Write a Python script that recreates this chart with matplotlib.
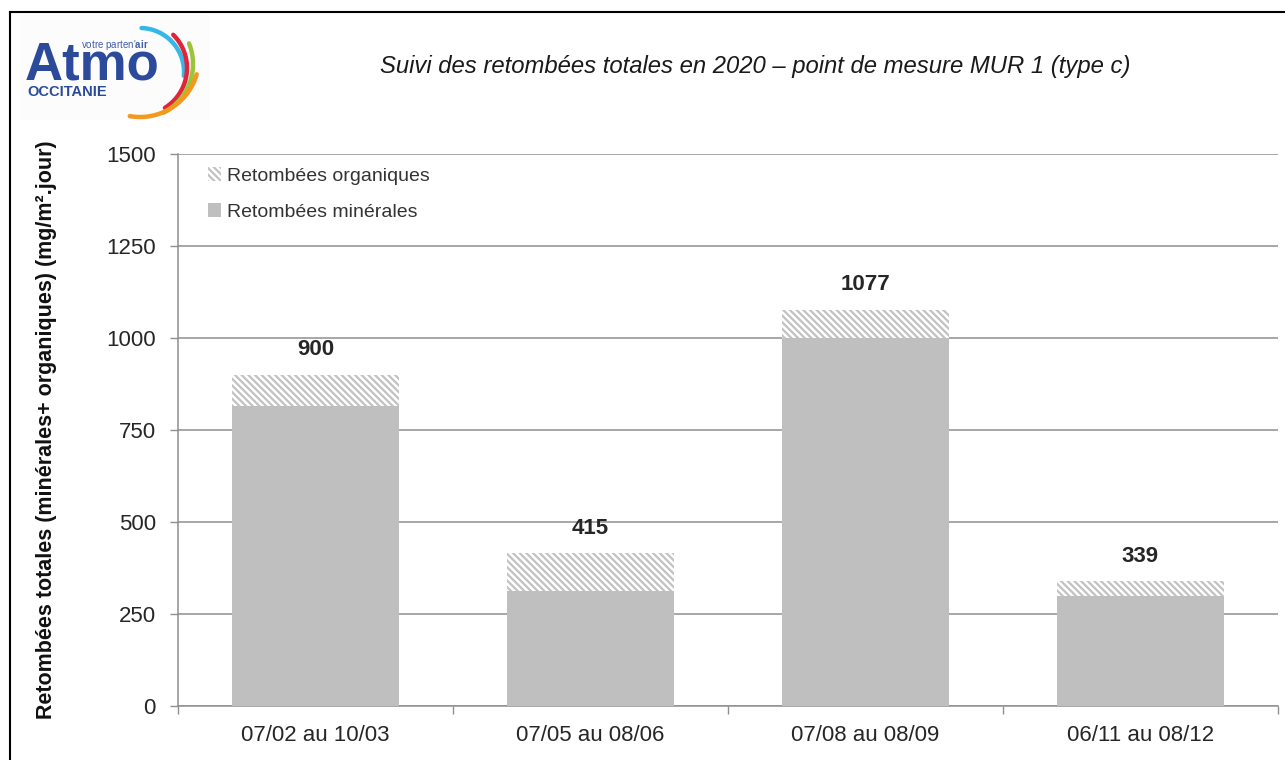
import numpy as np
import matplotlib
matplotlib.use("Agg")
import matplotlib.pyplot as plt
from matplotlib.patches import Patch
from matplotlib.lines import Line2D

# ---- data ----
periods = ["07/02 au 10/03", "07/05 au 08/06", "07/08 au 08/09", "06/11 au 08/12"]
minerales = [815, 313, 1000, 300]
totales = [900, 415, 1077, 339]
organiques = [t - m for t, m in zip(totales, minerales)]
yticks = [0, 250, 500, 750, 1000, 1250, 1500]

title = "Suivi des retombées totales en 2020 – point de mesure MUR 1 (type c)"
ylabel = "Retombées totales (minérales+ organiques) (mg/m².jour)"
legend_labels = ["Retombées organiques", "Retombées minérales"]

plt.rcParams['font.family'] = ['Liberation Sans', 'DejaVu Sans']
plt.rcParams['hatch.linewidth'] = 1.6
plt.rcParams['mathtext.fontset'] = 'custom'
plt.rcParams['mathtext.rm'] = 'Liberation Sans'
plt.rcParams['mathtext.bf'] = 'Liberation Sans:bold'

W, H = 1285, 760
fig = plt.figure(figsize=(W / 100, H / 100), dpi=100)
fig.patch.set_facecolor('white')

HATCH = '\\\\\\\\\\'
HCOL = '#c2c2c2'

ax = fig.add_axes([178 / W, 1 - 706 / H, (1278 - 178) / W, (706 - 154) / H])
x = np.arange(len(periods))
bw = 0.607
ax.bar(x, minerales, width=bw, color='#bfbfbf', linewidth=0, zorder=3)
ax.bar(x, organiques, bottom=minerales, width=bw, facecolor='white',
       edgecolor=HCOL, hatch=HATCH, linewidth=0, zorder=3)

for xi, t in zip(x, totales):
    ax.annotate(str(t), (xi, t), xytext=(0, 25), textcoords='offset pixels',
                ha='center', va='center', fontsize=16, fontweight='bold', color='#262626')

ax.set_xlim(-0.5, len(periods) - 0.5)
ax.set_ylim(0, 1500)
ax.set_yticks(yticks)
ax.set_yticklabels([str(v) for v in yticks])
ax.yaxis.grid(True, color='#8f8f8f', linewidth=1.1, zorder=0)
ax.set_axisbelow(True)

ax.set_xticks(np.arange(len(periods) + 1) - 0.5)
ax.set_xticklabels([])
ax.set_xticks(x, minor=True)
ax.set_xticklabels(periods, minor=True)
ax.tick_params(axis='x', which='minor', length=0, pad=14, labelsize=16, labelcolor='#262626')
ax.tick_params(axis='x', which='major', length=6, width=1, color='#8f8f8f', direction='out')
ax.tick_params(axis='y', length=6, width=1, color='#8f8f8f', direction='out', pad=10,
               labelsize=16, labelcolor='#262626')

for s in ['top', 'right']:
    ax.spines[s].set_visible(False)
for s in ['left', 'bottom']:
    ax.spines[s].set_color('#8f8f8f')
    ax.spines[s].set_linewidth(1.1)

ax.set_ylabel(ylabel, fontsize=15.5, fontweight='bold', color='#111111')
ax.yaxis.set_label_coords(-(178 - 57) / (1278 - 178), 0.5)

handles = [Patch(facecolor='white', edgecolor=HCOL, hatch=HATCH, linewidth=0),
           Patch(facecolor='#bfbfbf', linewidth=0)]
leg = ax.legend(handles, legend_labels, loc='upper left', bbox_to_anchor=(0.011, 1.008),
                frameon=False, fontsize=14, handlelength=0.7, handleheight=0.7,
                handletextpad=0.3, labelspacing=0.95, labelcolor='#333333')

fig.text(755 / W, 1 - 66 / H, title, ha='center', va='center', fontsize=17.2,
         style='italic', color='#1a1a1a')

# frame lines
fig.add_artist(Line2D([10 / W, 10 / W], [0, 1 - 12 / H], color='black', lw=1.5,
                      transform=fig.transFigure))
fig.add_artist(Line2D([10 / W, 1], [1 - 12 / H, 1 - 12 / H], color='black', lw=1.5,
                      transform=fig.transFigure))

# logo
lx0, ly0, lw_, lh_ = 20, 15, 190, 105
lax = fig.add_axes([lx0 / W, 1 - (ly0 + lh_) / H, lw_ / W, lh_ / H])
lax.set_xlim(lx0, lx0 + lw_)
lax.set_ylim(ly0 + lh_, ly0)
lax.axis('off')
lax.add_patch(plt.Rectangle((lx0, ly0), lw_, lh_, color='#fcfcfc', zorder=0))
blue = '#2c4a9c'
lax.text(25, 80, "Atmo", fontsize=38, fontweight='bold', color=blue, va='baseline', ha='left')
lax.text(27, 92, "OCCITANIE", fontsize=10.5, fontweight='bold', color=blue, va='center', ha='left')
lax.text(81, 48, r"votre parten'$\mathbf{air}$", fontsize=7, color='#3f5dab',
         va='baseline', ha='left')

def arc(cx, cy, r, a0, a1, color):
    t = np.radians(np.linspace(a0, a1, 60))
    lax.plot(cx + r * np.cos(t), cy - r * np.sin(t), color=color, lw=3.2,
             solid_capstyle='round')

arc(140, 72, 44, -5, 88, '#34b8e6')
arc(140, 68, 47, -58, 45, '#e0243a')
arc(138, 64, 55, -62, 22, '#9cc43a')
arc(140, 58, 59, -100, -16, '#f39a1e')

fig.savefig("out.png", dpi=100)
